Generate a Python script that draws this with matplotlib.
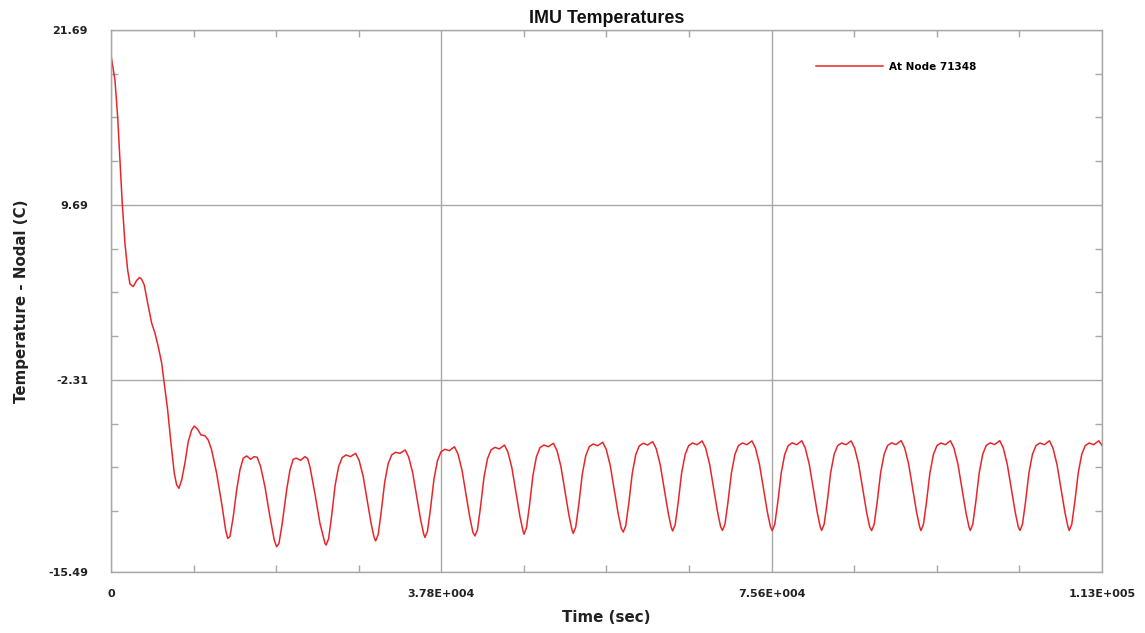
import matplotlib
matplotlib.use("Agg")
import matplotlib.pyplot as plt

# time (s) and nodal temperature (C)
time_s = [
    0, 458, 767, 1030, 1293, 1602, 1911, 2174, 2552, 2941, 3261, 3490, 3811,
    4200, 4657, 5035, 5413, 5802, 6099, 6488, 6866, 7243, 7518, 7781, 8090,
    8468, 8845, 9235, 9532, 9921, 10299, 10756, 11134, 11523, 12095, 12667,
    13125, 13354, 13617, 13995, 14383, 14762, 15139, 15528, 15986, 16364,
    16741, 17130, 17622, 18194, 18687, 18961, 19224, 19602, 20105, 20483,
    20861, 21200, 21700, 22200, 22500, 22772, 23344, 23916, 24488,
    24620, 24906, 25249, 25650, 26050, 26451, 26909, 27401, 27996, 28396, 28854, 29312, 29769, 30113,
    30290, 30576, 30919, 31320, 31720, 32121, 32579, 33071, 33666, 34066, 34524, 34982, 35439, 35783,
    35931, 36217, 36560, 36961, 37361, 37762, 38220, 38712, 39307, 39707, 40165, 40623, 41080, 41424,
    41653, 41939, 42282, 42683, 43083, 43484, 43942, 44434, 45029, 45429, 45887, 46345, 46802, 47146,
    47260, 47546, 47889, 48290, 48690, 49091, 49549, 50041, 50636, 51036, 51494, 51952, 52409, 52753,
    52901, 53187, 53530, 53931, 54331, 54732, 55190, 55682, 56277, 56677, 57135, 57593, 58050, 58394,
    58622, 58908, 59251, 59652, 60052, 60453, 60911, 61403, 61998, 62398, 62856, 63314, 63771, 64115,
    64275, 64561, 64904, 65305, 65705, 66106, 66564, 67056, 67651, 68051, 68509, 68967, 69424, 69768,
    69974, 70260, 70603, 71004, 71404, 71805, 72263, 72755, 73350, 73750, 74208, 74666, 75123, 75467,
    75673, 75959, 76302, 76703, 77103, 77504, 77962, 78454, 79049, 79449, 79907, 80365, 80822, 81166,
    81325, 81611, 81954, 82355, 82755, 83156, 83614, 84106, 84701, 85101, 85559, 86017, 86474, 86818,
    87047, 87333, 87676, 88077, 88477, 88878, 89336, 89828, 90423, 90823, 91281, 91739, 92196, 92540,
    92688, 92974, 93317, 93718, 94118, 94519, 94977, 95469, 96064, 96464, 96922, 97380, 97837, 98181,
    98330, 98616, 98959, 99360, 99760, 100161, 100619, 101111, 101706, 102106, 102564, 103022, 103479, 103823,
    104017, 104303, 104646, 105047, 105447, 105848, 106306, 106798, 107393, 107793, 108251, 108709, 109166, 109510,
    109658, 109944, 110287, 110688, 111088, 111489, 111947, 112439, 113034, 113400,
]

temp_c = [
    19.97, 18.26, 15.74, 12.77, 9.80, 7.06, 5.23, 4.27, 4.09, 4.51, 4.71, 4.61, 4.20,
    2.96, 1.59, 0.90, -0.04, -1.15, -2.53, -4.38, -6.64, -8.70, -9.52, -9.75, -9.18,
    -8.01, -6.55, -5.75, -5.48, -5.70, -6.09, -6.14, -6.44, -7.12, -8.72, -10.78,
    -12.61, -13.18, -13.07, -11.70, -9.87, -8.49, -7.69, -7.53, -7.76, -7.58,
    -7.62, -8.27, -9.64, -11.70, -13.30, -13.76, -13.53, -12.15, -9.87, -8.49,
    -7.76, -7.68, -7.83, -7.58, -7.70, -8.27, -10.13, -12.15, -13.52,
    -13.64, -13.21, -11.66, -9.56, -8.26, -7.65, -7.46, -7.58, -7.35, -7.83, -8.91, -10.54, -12.16, -13.12,
    -13.36, -12.93, -11.41, -9.35, -8.07, -7.46, -7.28, -7.35, -7.12, -7.60, -8.68, -10.30, -11.92, -12.88,
    -13.12, -12.70, -11.18, -9.13, -7.86, -7.25, -7.07, -7.17, -6.90, -7.39, -8.49, -10.14, -11.80, -12.78,
    -13.02, -12.59, -11.07, -9.01, -7.73, -7.12, -6.94, -7.05, -6.78, -7.27, -8.37, -10.02, -11.68, -12.66,
    -12.90, -12.47, -10.94, -8.86, -7.58, -6.96, -6.78, -6.90, -6.66, -7.15, -8.27, -9.94, -11.60, -12.59,
    -12.84, -12.41, -10.88, -8.79, -7.51, -6.89, -6.71, -6.83, -6.59, -7.08, -8.19, -9.85, -11.52, -12.50,
    -12.75, -12.32, -10.80, -8.73, -7.45, -6.84, -6.66, -6.78, -6.55, -7.04, -8.14, -9.80, -11.45, -12.43,
    -12.68, -12.26, -10.75, -8.69, -7.43, -6.82, -6.64, -6.76, -6.50, -6.99, -8.10, -9.75, -11.41, -12.39,
    -12.64, -12.22, -10.72, -8.68, -7.42, -6.82, -6.64, -6.76, -6.50, -6.99, -8.10, -9.75, -11.41, -12.39,
    -12.65, -12.23, -10.72, -8.68, -7.42, -6.82, -6.63, -6.76, -6.49, -6.99, -8.10, -9.75, -11.41, -12.40,
    -12.64, -12.22, -10.72, -8.68, -7.42, -6.82, -6.64, -6.76, -6.50, -6.99, -8.10, -9.75, -11.41, -12.39,
    -12.65, -12.23, -10.72, -8.67, -7.41, -6.81, -6.63, -6.75, -6.48, -6.98, -8.09, -9.75, -11.41, -12.40,
    -12.65, -12.22, -10.72, -8.68, -7.42, -6.82, -6.64, -6.76, -6.49, -6.99, -8.10, -9.75, -11.41, -12.39,
    -12.64, -12.22, -10.71, -8.67, -7.41, -6.81, -6.63, -6.75, -6.48, -6.98, -8.09, -9.74, -11.40, -12.39,
    -12.64, -12.22, -10.72, -8.68, -7.42, -6.82, -6.64, -6.76, -6.49, -6.99, -8.10, -9.75, -11.41, -12.39,
    -12.64, -12.22, -10.72, -8.68, -7.42, -6.82, -6.64, -6.76, -6.49, -6.80,
]

x_major = [0, 37800, 75600, 113400]
x_labels = ["0", "3.78E+004", "7.56E+004", "1.13E+005"]
y_major = [-15.49, -2.31, 9.69, 21.69]
y_labels = ["-15.49", "-2.31", "9.69", "21.69"]

fig = plt.figure(figsize=(11.45, 6.33), dpi=100)
ax = fig.add_axes([0.0969, 0.0964, 0.8655, 0.8562])

ax.plot(time_s, temp_c, color="#e8262a", linewidth=1.1, label="At Node 71348")

ax.set_xlim(0, 113400)
ax.set_ylim(-15.49, 21.69)

ax.set_xticks(x_major)
ax.set_xticklabels(x_labels)
ax.set_yticks(y_major)
ax.set_yticklabels(y_labels)

# minor ticks: four per major interval
ax.set_xticks([i * 9450 for i in range(1, 12) if i % 4 != 0], minor=True)
ax.set_yticks([21.69 - i * 3 for i in range(1, 12) if i % 4 != 0], minor=True)

gray = "#a8a8a8"
for s in ax.spines.values():
    s.set_color(gray)
    s.set_linewidth(1.0)

ax.grid(True, which="major", color=gray, linewidth=1.0)
ax.tick_params(which="both", direction="in", top=True, right=True,
               color=gray, width=1.0)
ax.tick_params(which="major", length=0)
ax.tick_params(which="minor", length=5)
ax.tick_params(axis="x", which="major", pad=12, labelsize=8, labelcolor="#222222")
ax.tick_params(axis="y", which="major", pad=16.5, labelsize=8, labelcolor="#222222")
for lbl in ax.get_xticklabels() + ax.get_yticklabels():
    lbl.set_fontweight("bold")

ax.set_title("IMU Temperatures", fontsize=12.9, fontweight="bold",
             family="Liberation Sans", pad=5, color="#111111")
ax.set_xlabel("Time (sec)", fontsize=10.8, fontweight="bold", labelpad=8, color="#222222")
ax.set_ylabel("Temperature - Nodal (C)", fontsize=10.8, fontweight="bold", labelpad=14, color="#222222")

ax.legend(loc="center left", bbox_to_anchor=(0.7064, 0.932), frameon=False,
          borderpad=0, handlelength=6.4, handletextpad=0.6,
          prop={"weight": "bold", "size": 7.5})

fig.savefig("out.png", dpi=100)
